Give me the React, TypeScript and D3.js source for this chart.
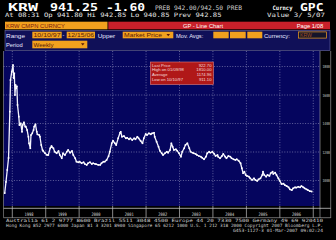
import React from "react";
import * as d3 from "d3";

// Weekly KRW closes (weeks since 10/10/97)
const weeks = [
  0, 2, 4, 6, 8, 9, 11, 13, 14, 15,
  16, 17, 18, 19, 20, 22, 23, 25, 27, 28,
  30, 32, 33, 35, 37, 38, 40, 41, 43, 45,
  46, 48, 50, 51, 54, 55, 57, 59, 60, 63,
  66, 68, 71, 73, 76, 78, 81, 84, 86, 89,
  91, 94, 97, 99, 102, 105, 107, 110, 112, 115,
  117, 120, 123, 125, 128, 130, 133, 136, 138, 141,
  143, 146, 149, 151, 154, 156, 159, 162, 164, 167,
  169, 172, 174, 177, 180, 181, 183, 186, 189, 191,
  194, 196, 199, 202, 204, 207, 209, 212, 215, 217,
  220, 222, 225, 228, 230, 233, 234, 237, 240, 242,
  245, 247, 250, 253, 255, 258, 260, 262, 264, 267,
  269, 272, 275, 277, 280, 282, 285, 288, 290, 293,
  295, 298, 300, 303, 306, 308, 311, 314, 316, 319,
  321, 324, 327, 329, 332, 333, 336, 339, 341, 344,
  346, 349, 352, 354, 357, 360, 362, 365, 368, 370,
  372, 374, 376, 378, 381, 383, 386, 389, 391, 394,
  396, 399, 402, 403, 405, 408, 410, 413, 415, 418,
  419, 422, 424, 427, 429, 432, 435, 437, 440, 443,
  445, 448, 450, 453, 455, 458, 461, 463, 466, 468,
  471, 473, 476, 479,
];
const closes = [
  911.1, 990, 1074, 1158, 1483, 1705, 1764, 1810, 1719, 1752,
  1600, 1670, 1647, 1660, 1530, 1448, 1389, 1401, 1342, 1389,
  1408, 1378, 1378, 1354, 1307, 1261, 1226, 1319, 1331, 1354,
  1378, 1394, 1342, 1324, 1319, 1307, 1249, 1214, 1207, 1191,
  1179, 1179, 1226, 1242, 1226, 1202, 1191, 1207, 1179, 1156,
  1191, 1179, 1202, 1214, 1195, 1207, 1179, 1156, 1132, 1128,
  1132, 1121, 1128, 1116, 1109, 1121, 1128, 1116, 1121, 1116,
  1114, 1109, 1109, 1121, 1132, 1132, 1144, 1170, 1202, 1261,
  1279, 1261, 1249, 1296, 1335, 1342, 1307, 1312, 1296, 1300,
  1289, 1296, 1284, 1296, 1289, 1307, 1296, 1279, 1261, 1296,
  1326, 1319, 1331, 1324, 1331, 1335, 1307, 1272, 1237, 1209,
  1191, 1179, 1191, 1202, 1195, 1214, 1261, 1237, 1214, 1219,
  1209, 1191, 1167, 1202, 1226, 1249, 1261, 1226, 1202, 1195,
  1191, 1186, 1179, 1172, 1167, 1160, 1149, 1167, 1191, 1202,
  1195, 1202, 1186, 1172, 1179, 1167, 1156, 1172, 1186, 1167,
  1156, 1172, 1167, 1156, 1149, 1144, 1149, 1139, 1121, 1086,
  1051, 1062, 1039, 1032, 1027, 1015, 1004, 1015, 1004, 997,
  1008, 1015, 1039, 1062, 1039, 1027, 1039, 1032, 1051, 1062,
  1046, 1055, 1039, 1015, 999, 975, 978, 968, 961, 952,
  938, 933, 945, 952, 950, 956, 952, 961, 952, 945,
  938, 933, 925, 922.7,
];
const yTicks = [1000, 1200, 1400, 1600, 1800];
const yearTicks = [1998, 1999, 2000, 2001, 2002, 2003, 2004, 2005, 2006, 2007];
const yearLabels = [1998, 1999, 2000, 2001, 2002, 2003, 2004, 2005, 2006];
const statLabels = ["Last Price", "High on 01/09/98", "Average", "Low on 10/10/97"];
const statValues = ["922.70", "1810.00", "1174.96", "911.10"];
const footerLines = [
  "Australia 61 2 9777 8600          Brazil 5511 3048 4500          Europe 44 20 7330 7500          Germany 49 69 920410",
  "Hong Kong 852 2977 6000 Japan 81 3 3201 8900 Singapore 65 6212 1000 U.S. 1 212 318 2000 Copyright 2007 Bloomberg L.P.",
  "G453-1127-3 01-Mar-2007 09:02:24",
];

const START = new Date(1997, 9, 10);
const END = new Date(2006, 11, 15);

const MONO = "'DejaVu Sans Mono', monospace";
const SANS = "'Liberation Sans', Arial, sans-serif";
const ORANGE = "#f2a11e";
const RED = "#c8202a";
const NAVY = "#05055e";

type TProps = { x: number; y: number; w?: number; size: number; fill: string; bold?: boolean; family?: string; anchor?: string; children: React.ReactNode };
const T = ({ x, y, w, size, fill, bold, family, anchor, children }: TProps) => (
  <text
    x={x}
    y={y}
    fontSize={size}
    fill={fill}
    fontWeight={bold ? "bold" : "normal"}
    fontFamily={family || MONO}
    textAnchor={anchor || "start"}
    textLength={w}
    lengthAdjust={w ? "spacingAndGlyphs" : undefined}
  >
    {children}
  </text>
);

export default function App() {
  const W = 336, H = 240;
  const plotL = 3.5, plotR = 320, plotT = 51, plotB = 206;
  const x = d3.scaleTime().domain([START, END]).range([4.7, 311.7]);
  const y = d3.scaleLinear().domain([1000, 1800]).range([180.5, 66.5]);
  const data = weeks.map((w, i) => ({ d: d3.timeDay.offset(START, 7 * w), v: closes[i] }));
  const line = d3.line<{ d: Date; v: number }>().x((p) => x(p.d)).y((p) => y(p.v));
  const yr = (yv: number, m = 0, dd = 1) => x(new Date(yv, m, dd));

  return (
    <svg width={W} height={H} style={{ position: "fixed", left: 0, top: 0, display: "block" }}>
      <rect width={W} height={H} fill="#000" />

      {/* header row 1 */}
      <T x={8} y={10.5} w={30} size={10} fill="#fff" bold>KRW</T>
      <T x={50} y={10.5} w={48} size={10} fill="#fff" bold>941.25</T>
      <T x={106} y={10.5} w={39} size={10} fill="#fff" bold>-1.60</T>
      <T x={155} y={9.6} w={87} size={6.2} fill="#cfcfcf">PREB 942.00/942.50 PREB</T>
      <T x={272.5} y={9.8} w={20} size={6} fill="#fff" bold>Curncy</T>
      <T x={300} y={10.5} w={23.5} size={10} fill="#fff" bold>GPC</T>
      {/* header row 2 */}
      <T x={5} y={17.4} w={216.5} size={6} fill="#e6e6e6">At 08:31 Op 941.80  Hi 942.85  Lo 940.85  Prev 942.85</T>
      <T x={267} y={17.4} w={58} size={6} fill="#e6e6e6">Value  3/ 5/07</T>

      {/* row 3 */}
      <rect x={5} y={21.7} width={102.5} height={7.6} fill={ORANGE} />
      <T x={6} y={27.7} w={59} size={5.4} fill="#7a1a10" family={SANS}>KRW CMPN CURNCY</T>
      <rect x={108.3} y={21.7} width={221.7} height={7.6} fill={RED} />
      <T x={203} y={27.7} w={40} size={5.4} fill="#fff" family={SANS} anchor="middle">GP - Line Chart</T>
      <T x={296.7} y={27.7} w={26.5} size={5.4} fill="#fff" family={SANS}>Page 1/08</T>

      {/* rows 4-5 panel */}
      <rect x={5} y={30.5} width={325} height={20} fill="#101058" stroke="#6a6aa8" strokeWidth={0.6} />
      <T x={6} y={37.6} w={19} size={5.6} fill="#e8e8ff" family={SANS}>Range</T>
      <rect x={32.3} y={31.7} width={29.4} height={6.6} fill={ORANGE} />
      <T x={33.5} y={37.2} w={27} size={5.4} fill="#5a1a08" family={SANS}>10/10/97</T>
      <T x={62.5} y={37.2} size={5.4} fill="#e8e8ff" family={SANS}>-</T>
      <rect x={66.7} y={31.7} width={28.3} height={6.6} fill={ORANGE} />
      <T x={67.5} y={37.2} w={26.5} size={5.4} fill="#5a1a08" family={SANS}>12/15/06</T>
      <T x={97.7} y={37.6} w={17.5} size={5.6} fill="#e8e8ff" family={SANS}>Upper</T>
      <rect x={122.7} y={31.7} width={50.6} height={6.6} fill={ORANGE} />
      <T x={124} y={37.2} w={38} size={5.4} fill="#5a1a08" family={SANS}>Market Price</T>
      <path d="M166.5,34 L170,34 L168.25,36.2 Z" fill="#5a1a08" />
      <T x={176} y={37.6} w={27.3} size={5.6} fill="#e8e8ff" family={SANS}>Mov. Avgs:</T>
      <rect x={213.3} y={31.7} width={15.4} height={6.6} fill={ORANGE} />
      <rect x={230} y={31.7} width={15.7} height={6.6} fill={ORANGE} />
      <rect x={247.3} y={31.7} width={15} height={6.6} fill={ORANGE} />
      <T x={264} y={37.6} w={26} size={5.6} fill="#e8e8ff" family={SANS}>Currency:</T>
      <rect x={298.6} y={31.9} width={27.8} height={6.2} fill="#14142a" stroke={ORANGE} strokeWidth={0.7} />
      <T x={300} y={37.2} w={12} size={5.4} fill="#a0501a" family={SANS}>KRW</T>
      <T x={6} y={46.6} w={16.7} size={5.6} fill="#e8e8ff" family={SANS}>Period</T>
      <rect x={32.3} y={40.7} width={55} height={7.6} fill={ORANGE} />
      <T x={33.5} y={46.5} w={20} size={5.6} fill="#5a1a08" family={SANS}>Weekly</T>
      <path d="M81,43.3 L84.5,43.3 L82.75,45.5 Z" fill="#5a1a08" />

      {/* plot area */}
      <rect x={plotL} y={plotT} width={plotR - plotL} height={plotB - plotT} fill={NAVY} />
      {yTicks.map((t) => (
        <line key={"gy" + t} x1={plotL} x2={plotR} y1={y(t)} y2={y(t)} stroke="#8a8ab8" strokeWidth={0.7} strokeDasharray="1,1.6" />
      ))}
      {yearTicks.map((yv) => (
        <line key={"gx" + yv} x1={yr(yv)} x2={yr(yv)} y1={plotT} y2={plotB} stroke="#8a8ab8" strokeWidth={0.7} strokeDasharray="1,1.6" />
      ))}
      <path d={line(data) || ""} fill="none" stroke="#f4f4ff" strokeWidth={1.3} strokeLinejoin="round" />
      {data.map((p, i) => (
        <rect key={"m" + i} x={x(p.d) - 0.8} y={y(p.v) - 0.8} width={1.6} height={1.6} fill="#ffffff" />
      ))}

      {/* stats box */}
      <rect x={150.3} y={62} width={63} height={22.5} fill="#b01818" stroke="#e08080" strokeWidth={0.6} />
      {statLabels.map((s, i) => (
        <T key={"sl" + i} x={152} y={66.7 + i * 4.6} size={4.2} fill="#f4dede" family={SANS}>{s}</T>
      ))}
      {statValues.map((s, i) => (
        <T key={"sv" + i} x={211.5} y={66.7 + i * 4.6} size={4.2} fill="#f4dede" family={SANS} anchor="end">{s}</T>
      ))}

      {/* right axis column */}
      <line x1={plotR} x2={plotR} y1={plotT} y2={218} stroke="#9a9a9a" strokeWidth={0.7} />
      <line x1={330.7} x2={330.7} y1={plotT} y2={218} stroke="#9a9a9a" strokeWidth={0.7} />
      {yTicks.map((t) => (
        <T key={"yl" + t} x={322.5} y={y(t) + 1.5} w={7.5} size={4.2} fill="#c8c8c8">{String(t)}</T>
      ))}

      {/* bottom axis strip */}
      <line x1={plotL} x2={330.7} y1={208.3} y2={208.3} stroke="#e0e0e0" strokeWidth={0.7} />
      <line x1={plotL} x2={330.7} y1={217.7} y2={217.7} stroke="#9a9a9a" strokeWidth={0.7} />
      <line x1={plotL} x2={plotL} y1={plotT} y2={217.7} stroke="#9a9a9a" strokeWidth={0.6} />
      {yearTicks.map((yv) => (
        <line key={"tx" + yv} x1={yr(yv)} x2={yr(yv)} y1={plotB} y2={217.7} stroke="#c0c0c0" strokeWidth={0.7} />
      ))}
      {yearLabels.map((yv) => (
        <T key={"xl" + yv} x={yr(yv, 6, 2)} y={216.3} w={9} size={4.6} fill="#d8d8d8" anchor="middle">{String(yv)}</T>
      ))}

      {/* footer */}
      <T x={6} y={222.3} w={317} size={4.4} fill="#d0d0d0">{footerLines[0]}</T>
      <T x={6} y={227.2} w={317} size={4.4} fill="#d0d0d0">{footerLines[1]}</T>
      <T x={233} y={231.9} w={90} size={4.4} fill="#d0d0d0">{footerLines[2]}</T>
    </svg>
  );
}
